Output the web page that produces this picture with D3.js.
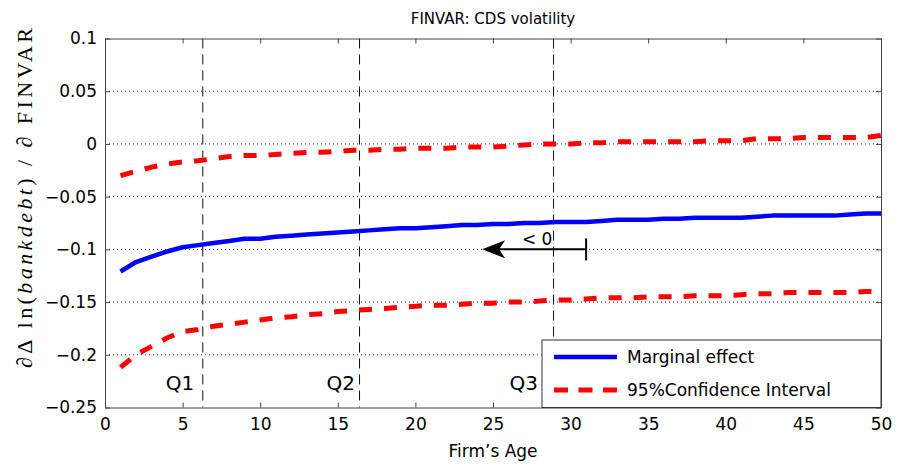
<!DOCTYPE html>
<html>
<head>
<meta charset="utf-8">
<script src="https://cdn.jsdelivr.net/npm/d3@7"></script>
<style>
  body { margin: 0; background: #fff; }
  text { font-family: "DejaVu Sans", sans-serif; fill: #000; }
</style>
</head>
<body>
<svg id="chart"></svg>
<script>
// Firm's age (years) on the x axis
const ages = [1, 2, 3, 4, 5, 6, 7, 8, 9, 10, 11, 12, 13, 14, 15, 16, 17, 18, 19, 20,
              21, 22, 23, 24, 25, 26, 27, 28, 29, 30, 31, 32, 33, 34, 35, 36, 37, 38, 39, 40,
              41, 42, 43, 44, 45, 46, 47, 48, 49, 50];

// Marginal effect and the two bounds of the 95% confidence interval
const marginal = [-0.121, -0.112, -0.107, -0.102, -0.098, -0.096, -0.094, -0.092, -0.090, -0.090,
                  -0.088, -0.087, -0.086, -0.085, -0.084, -0.083, -0.082, -0.081, -0.080, -0.080,
                  -0.079, -0.078, -0.077, -0.077, -0.076, -0.076, -0.075, -0.075, -0.074, -0.074,
                  -0.074, -0.073, -0.072, -0.072, -0.072, -0.071, -0.071, -0.070, -0.070, -0.070,
                  -0.070, -0.069, -0.068, -0.068, -0.068, -0.068, -0.068, -0.067, -0.066, -0.066];
const upper = [-0.030, -0.026, -0.022, -0.019, -0.017, -0.016, -0.014, -0.012, -0.011, -0.011,
               -0.010, -0.009, -0.008, -0.008, -0.007, -0.006, -0.006, -0.005, -0.005, -0.004,
               -0.004, -0.004, -0.003, -0.003, -0.003, -0.002, -0.001, 0.000, 0.000, 0.000,
               0.001, 0.001, 0.002, 0.002, 0.002, 0.002, 0.002, 0.002, 0.003, 0.003,
               0.003, 0.005, 0.005, 0.005, 0.006, 0.006, 0.006, 0.006, 0.006, 0.008];
const lower = [-0.212, -0.200, -0.192, -0.184, -0.178, -0.176, -0.173, -0.171, -0.169, -0.167,
               -0.165, -0.164, -0.162, -0.161, -0.159, -0.158, -0.157, -0.156, -0.155, -0.154,
               -0.153, -0.153, -0.152, -0.151, -0.151, -0.150, -0.150, -0.149, -0.148, -0.148,
               -0.147, -0.146, -0.146, -0.146, -0.145, -0.145, -0.145, -0.144, -0.144, -0.144,
               -0.143, -0.142, -0.142, -0.141, -0.141, -0.141, -0.141, -0.141, -0.140, -0.140];

// Quartiles of firm's age, and the age at which each label ends
const quartileNames = ["Q1", "Q2", "Q3"];
const quartileAges = [6.3, 16.4, 28.9];
const quartileLabelAges = [5.75, 16.1, 27.9];

// Arrow marking the range where the effect is < 0 (start, end, level)
const arrowFrom = 31.0, arrowTo = 24.3, arrowLevel = -0.1;

const xTicks = [0, 5, 10, 15, 20, 25, 30, 35, 40, 45, 50];
const yTicks = [0.1, 0.05, 0, -0.05, -0.1, -0.15, -0.2, -0.25];
const yTickLabels = ["0.1", "0.05", "0", "\u22120.05", "\u22120.1", "\u22120.15", "\u22120.2", "\u22120.25"];

const legendNames = ["Marginal effect", "95%Confidence Interval"];

const width = 899, height = 466;
const margin = {top: 38.5, right: 18, bottom: 58.5, left: 105};

const svg = d3.select("#chart").attr("width", width).attr("height", height);

const x = d3.scaleLinear().domain([0, 50]).range([margin.left, width - margin.right]);
const y = d3.scaleLinear().domain([-0.25, 0.1]).range([height - margin.bottom, margin.top]);

// dotted horizontal grid
svg.append("g").selectAll("line")
    .data(yTicks.filter(d => d < 0.1 && d > -0.25))
    .enter().append("line")
    .attr("x1", x(0)).attr("x2", x(50))
    .attr("y1", d => y(d)).attr("y2", d => y(d))
    .attr("stroke", "#333").attr("stroke-width", 1)
    .attr("stroke-dasharray", "1,3");

// quartile dashed lines
svg.append("g").selectAll("line")
    .data(quartileAges)
    .enter().append("line")
    .attr("x1", d => x(d)).attr("x2", d => x(d))
    .attr("y1", y(0.1)).attr("y2", y(-0.25))
    .attr("stroke", "#111").attr("stroke-width", 1)
    .attr("stroke-dasharray", "10,6");

// quartile labels
svg.append("g").selectAll("text")
    .data(quartileLabelAges)
    .enter().append("text")
    .attr("x", d => x(d))
    .attr("y", y(-0.25) - 18)
    .attr("text-anchor", "end")
    .style("font-size", "20px")
    .text((d, i) => quartileNames[i]);

// axes (ticks point inwards, MATLAB box style)
const xAxis = svg.append("g")
    .attr("transform", "translate(0," + y(-0.25) + ")")
    .call(d3.axisBottom(x).tickValues(xTicks).tickSizeInner(-5).tickSizeOuter(0).tickPadding(10));
const xTop = svg.append("g")
    .attr("transform", "translate(0," + y(0.1) + ")")
    .call(d3.axisTop(x).tickValues(xTicks).tickSizeInner(-5).tickSizeOuter(0).tickFormat(""));
const yAxis = svg.append("g")
    .attr("transform", "translate(" + x(0) + ",0)")
    .call(d3.axisLeft(y).tickValues(yTicks).tickSizeInner(-5).tickSizeOuter(0).tickPadding(8)
        .tickFormat((d, i) => yTickLabels[i]));
const yRight = svg.append("g")
    .attr("transform", "translate(" + x(50) + ",0)")
    .call(d3.axisRight(y).tickValues(yTicks).tickSizeInner(-5).tickSizeOuter(0).tickFormat(""));

[xAxis, xTop, yAxis, yRight].forEach(g => {
    g.select(".domain").attr("stroke", "#444");
    g.selectAll(".tick line").attr("stroke", "#444");
    g.selectAll("text").style("font-size", "17px").style("font-family", "DejaVu Sans, sans-serif").attr("fill", "#000");
});

// series
const line = vals => d3.line()
    .x((d, i) => x(ages[i]))
    .y(d => y(d))(vals);

svg.append("path").attr("d", line(upper))
    .attr("fill", "none").attr("stroke", "#ff0000").attr("stroke-width", 5)
    .attr("stroke-dasharray", "13,12");
svg.append("path").attr("d", line(lower))
    .attr("fill", "none").attr("stroke", "#ff0000").attr("stroke-width", 5)
    .attr("stroke-dasharray", "13,12");
svg.append("path").attr("d", line(marginal))
    .attr("fill", "none").attr("stroke", "#0000ff").attr("stroke-width", 4.5)
    .attr("stroke-linejoin", "round");

// arrow "< 0"
const ay = y(arrowLevel), ax0 = x(arrowFrom), ax1 = x(arrowTo);
svg.append("line")
    .attr("x1", ax0).attr("x2", ax1 + 12).attr("y1", ay).attr("y2", ay)
    .attr("stroke", "#000").attr("stroke-width", 2);
svg.append("line")
    .attr("x1", ax0).attr("x2", ax0).attr("y1", ay - 11).attr("y2", ay + 11)
    .attr("stroke", "#000").attr("stroke-width", 2);
svg.append("path")
    .attr("d", `M${ax1},${ay} L${ax1 + 23},${ay - 9} L${ax1 + 17},${ay} L${ax1 + 23},${ay + 9} Z`)
    .attr("fill", "#000");
svg.append("text")
    .attr("x", (ax0 + ax1) / 2 + 3).attr("y", ay - 4)
    .attr("text-anchor", "middle")
    .style("font-size", "17px")
    .text("< 0");

// legend in the lower right corner
const lg = svg.append("g");
lg.append("rect")
    .attr("x", 542).attr("y", 340)
    .attr("width", x(50) - 542).attr("height", y(-0.25) - 340)
    .attr("fill", "#fff").attr("stroke", "#333").attr("stroke-width", 1);
lg.append("line").attr("x1", 554).attr("x2", 617).attr("y1", 357).attr("y2", 357)
    .attr("stroke", "#0000ff").attr("stroke-width", 4.5);
lg.append("line").attr("x1", 554).attr("x2", 617).attr("y1", 390).attr("y2", 390)
    .attr("stroke", "#ff0000").attr("stroke-width", 5).attr("stroke-dasharray", "14,10.5");
lg.selectAll("text").data(legendNames).enter().append("text")
    .attr("x", 627).attr("y", (d, i) => 363 + i * 33)
    .style("font-size", "17px")
    .text(d => d);

// titles
svg.append("text")
    .attr("x", (x(0) + x(50)) / 2).attr("y", 24)
    .attr("text-anchor", "middle")
    .style("font-size", "15px")
    .text("FINVAR: CDS volatility");

svg.append("text")
    .attr("x", (x(0) + x(50)) / 2).attr("y", 457)
    .attr("text-anchor", "middle")
    .style("font-size", "17px")
    .text("Firm\u2019s Age");

const ylab = svg.append("text")
    .attr("transform", "translate(32,198) rotate(-90)")
    .attr("text-anchor", "middle")
    .attr("textLength", 340)
    .attr("lengthAdjust", "spacing")
    .style("font-family", "Liberation Serif, serif")
    .style("font-size", "22px");
ylab.append("tspan").text("\u2202\u0394 ln(");
ylab.append("tspan").style("font-style", "italic").text("bankdebt");
ylab.append("tspan").text(") / \u2202 FINVAR");
</script>
</body>
</html>
